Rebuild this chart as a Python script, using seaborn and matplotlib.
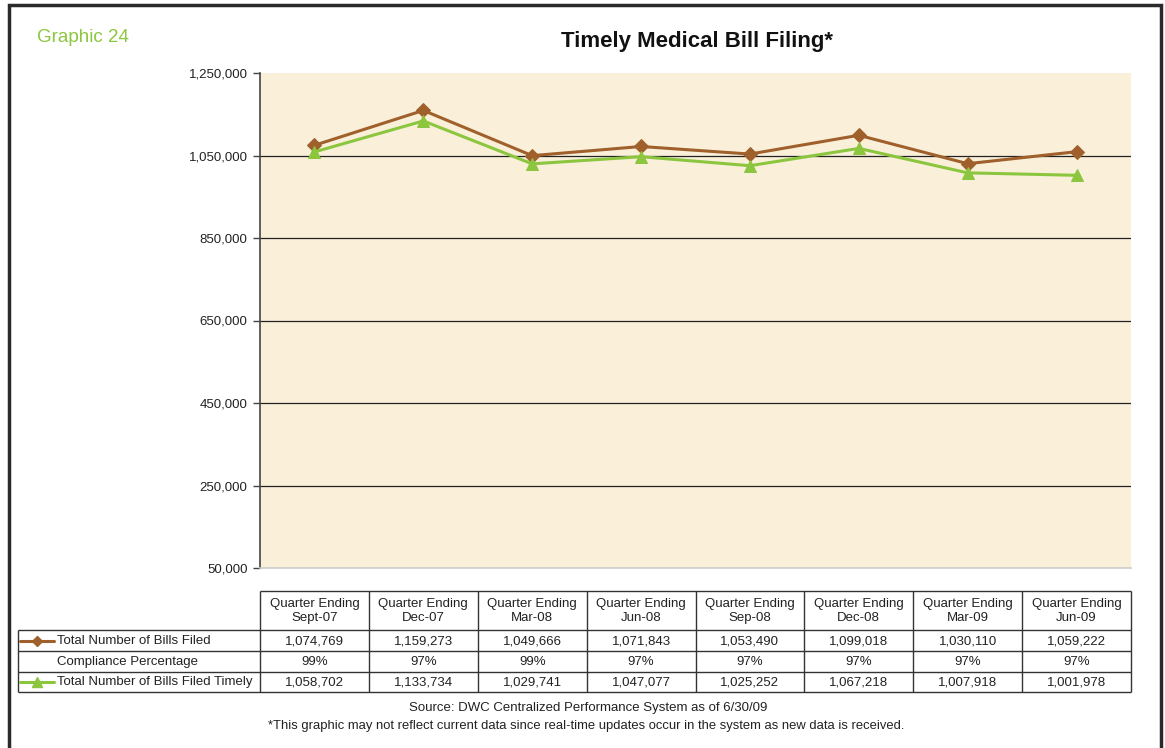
"""Timely Medical Bill Filing chart with data table."""
import matplotlib

matplotlib.use("Agg")
import matplotlib.pyplot as plt
import numpy as np
import pandas as pd
import seaborn as sns
from matplotlib.lines import Line2D
from matplotlib.patches import Rectangle
from matplotlib.ticker import FuncFormatter

quarters = ["Sept-07", "Dec-07", "Mar-08", "Jun-08", "Sep-08", "Dec-08", "Mar-09", "Jun-09"]
bills_filed = [1074769, 1159273, 1049666, 1071843, 1053490, 1099018, 1030110, 1059222]
compliance = ["99%", "97%", "99%", "97%", "97%", "97%", "97%", "97%"]
bills_timely = [1058702, 1133734, 1029741, 1047077, 1025252, 1067218, 1007918, 1001978]
y_ticks = [50000, 250000, 450000, 650000, 850000, 1050000, 1250000]

BROWN = "#A0602B"
GREEN = "#8CC63F"
BG = "#FAF0DA"

sns.set_style("white")
plt.rcParams["font.family"] = ["Liberation Sans", "DejaVu Sans"]

W, H = 1165, 748
fig = plt.figure(figsize=(W / 100, H / 100), dpi=100)


def px_box(x0, y0, x1, y1):
    """Convert a pixel box (top-left origin) to figure fractions."""
    return [x0 / W, 1 - y1 / H, (x1 - x0) / W, (y1 - y0) / H]


# main chart
ax = fig.add_axes(px_box(260, 73, 1131, 568))
ax.set_facecolor(BG)
df = pd.DataFrame({"pos": np.arange(len(quarters)), "filed": bills_filed, "timely": bills_timely})
sns.lineplot(data=df, x="pos", y="filed", ax=ax, color=BROWN, lw=2.2,
             marker="D", markersize=7, markeredgecolor=BROWN)
sns.lineplot(data=df, x="pos", y="timely", ax=ax, color=GREEN, lw=2.2,
             marker="^", markersize=8, markeredgecolor=GREEN)

ax.set_xlim(-0.5, len(quarters) - 0.5)
ax.set_ylim(y_ticks[0], y_ticks[-1])
ax.set_yticks(y_ticks)
ax.yaxis.set_major_formatter(FuncFormatter(lambda v, _: f"{int(v):,}"))
ax.set_xticks([])
ax.set_xlabel("")
ax.set_ylabel("")
ax.tick_params(axis="y", length=5, width=1, color="#444444", labelsize=9.5,
               labelcolor="#222222", pad=4, left=True)
ax.grid(axis="y", color="#222222", lw=0.9)
grid = ax.get_ygridlines()
grid[0].set_visible(False)
grid[-1].set_visible(False)
for side in ["top", "right"]:
    ax.spines[side].set_visible(False)
ax.spines["left"].set_color("#444444")
ax.spines["left"].set_linewidth(1.2)
ax.spines["bottom"].set_color("#cccccc")
ax.spines["bottom"].set_linewidth(1.2)

# data table below the chart
tx0, tx1 = 18, 1131
cx0 = 260
ty = [591, 630, 651, 672, 692]
tab = fig.add_axes(px_box(tx0, ty[0], tx1, ty[-1]))
tab.set_xlim(tx0, tx1)
tab.set_ylim(ty[-1], ty[0])
tab.axis("off")
col_w = (tx1 - cx0) / len(quarters)
edges = [cx0 + i * col_w for i in range(len(quarters) + 1)]
lc = "#333333"
lw = 1.0
kw = dict(color=lc, lw=lw, clip_on=False, solid_capstyle="butt")
tab.plot([cx0, tx1], [ty[0], ty[0]], **kw)
for yy in ty[1:]:
    tab.plot([tx0, tx1], [yy, yy], **kw)
for xx in edges:
    tab.plot([xx, xx], [ty[0], ty[-1]], **kw)
tab.plot([tx0, tx0], [ty[1], ty[-1]], **kw)

fs = 9.5
for i, q in enumerate(quarters):
    xc = (edges[i] + edges[i + 1]) / 2
    tab.text(xc, (ty[0] + ty[1]) / 2 + 0.5, f"Quarter Ending\n{q}", ha="center", va="center",
             fontsize=fs, color="#222222", linespacing=1.2)
    tab.text(xc, (ty[1] + ty[2]) / 2 + 0.5, f"{bills_filed[i]:,}", ha="center", va="center",
             fontsize=fs, color="#222222")
    tab.text(xc, (ty[2] + ty[3]) / 2 + 0.5, compliance[i], ha="center", va="center",
             fontsize=fs, color="#222222")
    tab.text(xc, (ty[3] + ty[4]) / 2 + 0.5, f"{bills_timely[i]:,}", ha="center", va="center",
             fontsize=fs, color="#222222")

row_labels = ["Total Number of Bills Filed", "Compliance Percentage", "Total Number of Bills Filed Timely"]
for r, lab in enumerate(row_labels):
    yc = (ty[r + 1] + ty[r + 2]) / 2
    tab.text(57, yc + 0.5, lab, ha="left", va="center", fontsize=fs, color="#222222")

legend_glyphs = [(ty[1] + ty[2]) / 2, (ty[3] + ty[4]) / 2]
tab.add_line(Line2D([20, 54], [legend_glyphs[0]] * 2, color=BROWN, lw=2.2))
tab.add_line(Line2D([37], [legend_glyphs[0]], color=BROWN, marker="D", markersize=5.5))
tab.add_line(Line2D([20, 54], [legend_glyphs[1]] * 2, color=GREEN, lw=2.2))
tab.add_line(Line2D([37], [legend_glyphs[1]], color=GREEN, marker="^", markersize=6.5))

# titles and notes
fig.text(37 / W, 1 - 37 / H, "Graphic 24", color=GREEN, fontsize=13.5, ha="left", va="center")
fig.text(697 / W, 1 - 42 / H, "Timely Medical Bill Filing*", fontsize=16, fontweight="bold",
         ha="center", va="center", color="#111111")
fig.text(588 / W, 1 - 708 / H, "Source: DWC Centralized Performance System as of 6/30/09",
         fontsize=9.5, ha="center", va="center", color="#222222")
fig.text(586 / W, 1 - 726 / H,
         "*This graphic may not reflect current data since real-time updates occur in the system as new data is received.",
         fontsize=9.4, ha="center", va="center", color="#222222")

# page frame
fig.add_artist(Rectangle((9 / W, -0.05), (1161 - 9) / W, (748 - 5) / H + 0.05,
                         transform=fig.transFigure, fill=False, lw=2.5, ec="#2a2a2a"))

fig.savefig("out.png", dpi=100)
plt.close(fig)
